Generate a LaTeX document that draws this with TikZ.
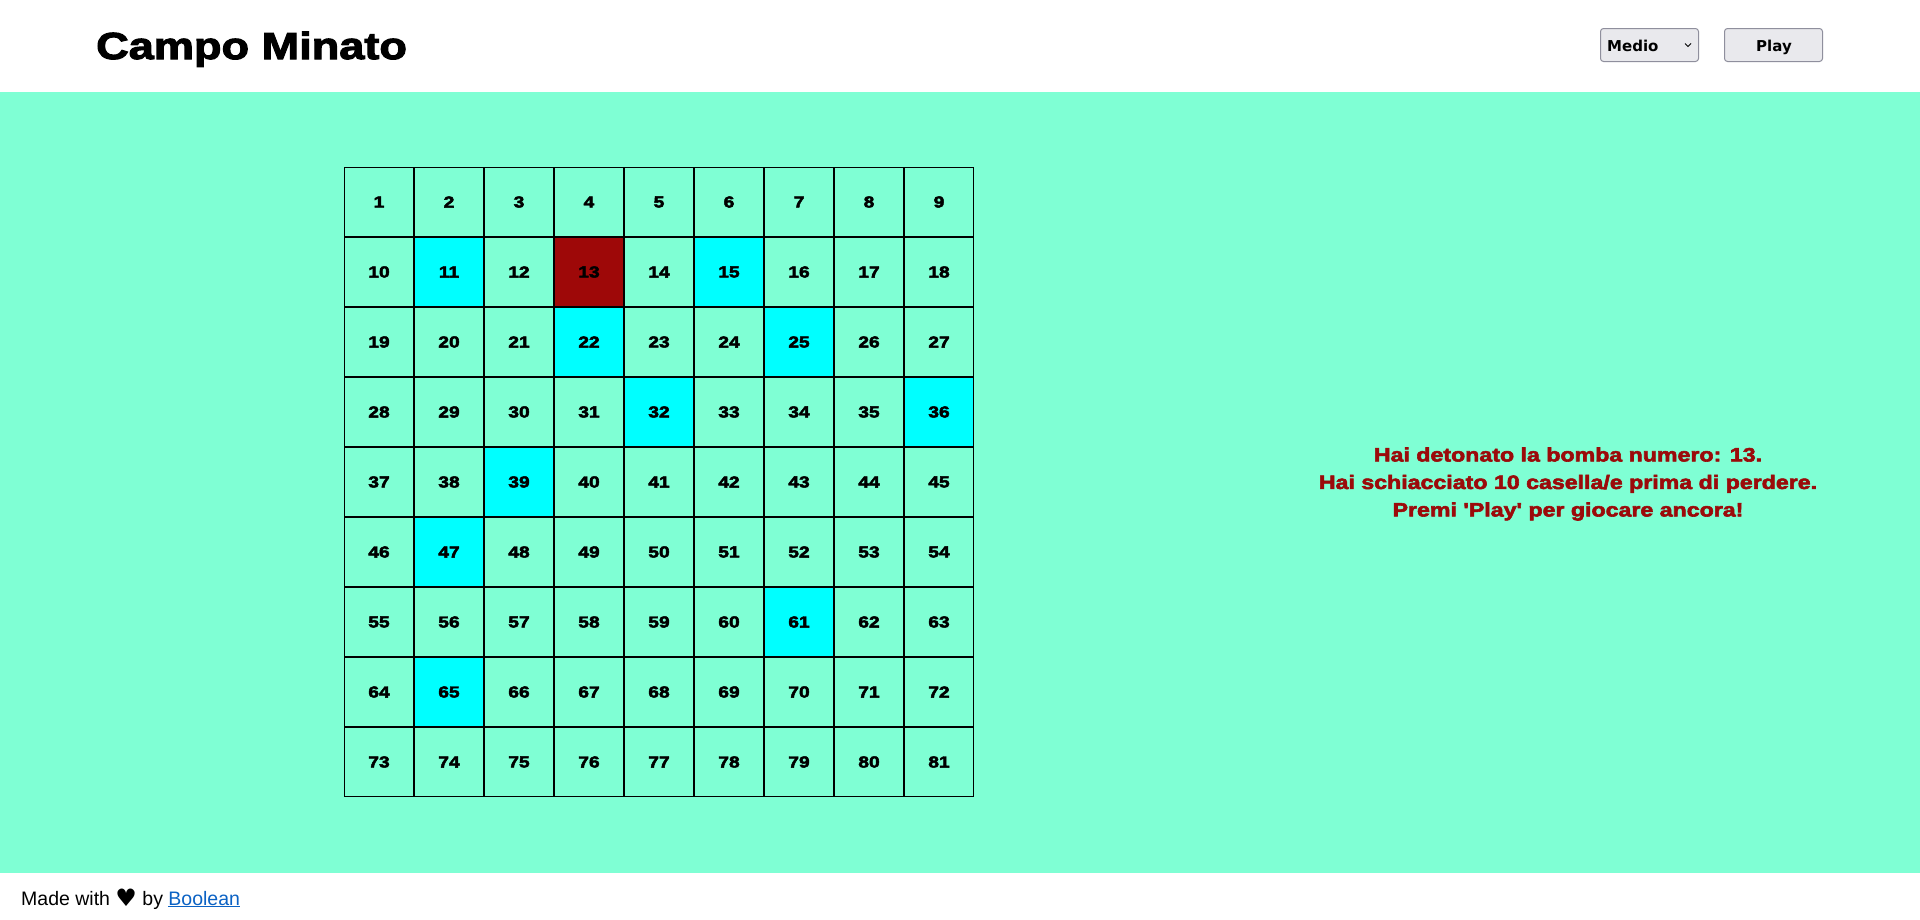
\documentclass[tikz,border=0pt]{standalone}
\usepackage{fontspec}
\setmainfont{Liberation Sans}
\newfontfamily\blackfont[FakeStretch=1.2,FakeBold=3]{Liberation Sans Bold}
\newfontfamily\dejabold{DejaVu Sans Bold}
\newfontfamily\dejavu{DejaVu Sans}
\definecolor{aqua}{HTML}{7FFFD4}
\definecolor{cyancell}{HTML}{00FFFF}
\definecolor{bombred}{HTML}{9E0808}
\definecolor{msgred}{HTML}{9B0A0A}
\definecolor{btnfill}{HTML}{E9E9ED}
\definecolor{btnline}{HTML}{8F8F9D}
\definecolor{linkblue}{HTML}{0B62C4}
\tikzset{
  cell/.style={draw=black, line width=1pt, minimum size=69pt, inner sep=0pt, fill=aqua,
    font=\blackfont\fontsize{16}{16}\selectfont},
  c11/.style={fill=cyancell}, c15/.style={fill=cyancell}, c22/.style={fill=cyancell},
  c25/.style={fill=cyancell}, c32/.style={fill=cyancell}, c36/.style={fill=cyancell},
  c39/.style={fill=cyancell}, c47/.style={fill=cyancell}, c61/.style={fill=cyancell},
  c65/.style={fill=cyancell}, c13/.style={fill=bombred},
  btn/.style={draw=btnline, fill=btnfill, line width=1pt, rounded corners=3pt,
    minimum width=98pt, minimum height=33pt, inner sep=0pt},
  btntext/.style={inner sep=0pt, font=\dejabold\fontsize{15}{15}\selectfont},
  title/.style={inner sep=0pt, font=\blackfont\fontsize{37.6}{37.6}\selectfont},
  msg/.style={align=center, inner sep=0pt, text=msgred,
    font=\blackfont\fontsize{19.3}{27.5}\selectfont},
  foot/.style={inner sep=0pt, font=\fontsize{19.5}{20}\selectfont}
}
\begin{document}
\begin{tikzpicture}[x=1pt,y=-1pt]
\useasboundingbox (0,0) rectangle (1920,919);
\fill[white] (0,0) rectangle (1920,919);
\fill[aqua] (0,92) rectangle (1920,873);
% header
\node[title, anchor=base west] (title) at (96,59) {Campo Minato};
\node[btn] (sel) at (1649.5,45) {};
\node[btntext, anchor=base west] (medio) at (1607,51) {Medio};
\coordinate (chev) at (1688,45);
\draw[line width=1pt, black] ([xshift=-3pt,yshift=1.5pt]chev) -- ([yshift=-1.5pt]chev) -- ([xshift=3pt,yshift=1.5pt]chev);
\node[btn] (play) at (1773.5,45) {};
\node[btntext, anchor=base] (playtext) at (1774,51) {Play};
% grid
\foreach \n in {1,...,81}{
  \pgfmathtruncatemacro\r{(\n-1)/9}
  \pgfmathtruncatemacro\c{\n-1-9*\r}
  \node[cell, c\n/.try] (cell\n) at (344+70*\c+35, 167+70*\r+35) {\n};
}
% message
\node[msg] (msg) at (1568,484) {Hai detonato la bomba numero: 13.\\Hai schiacciato 10 casella/e prima di perdere.\\Premi 'Play' per giocare ancora!};
% footer
\node[foot, anchor=base west] (footer) at (21,905) {Made with {\dejavu\fontsize{24}{24}\selectfont\raisebox{-1pt}{♥}} by \textcolor{linkblue}{\underline{Boolean}}};
\end{tikzpicture}
\end{document}
